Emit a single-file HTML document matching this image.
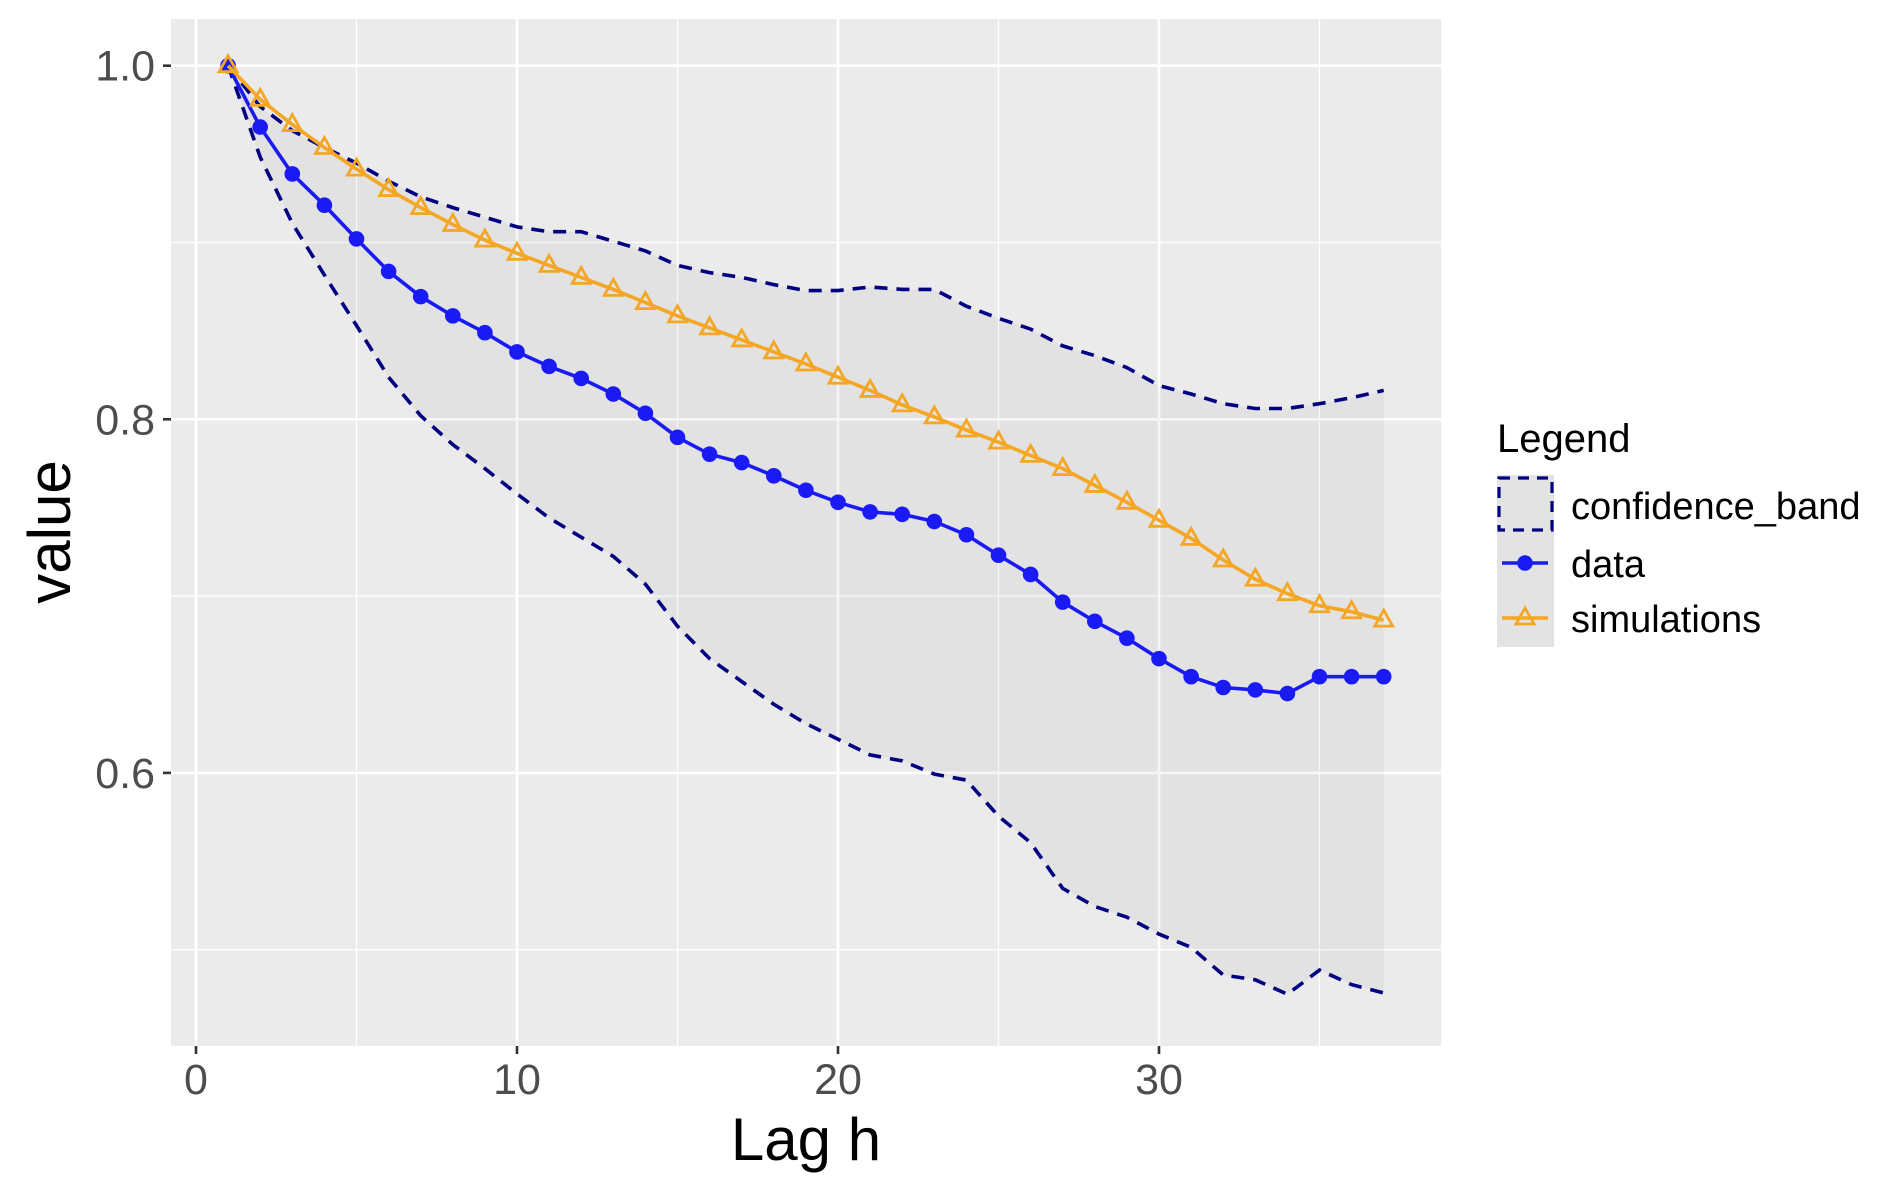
<!DOCTYPE html>
<html><head><meta charset="utf-8"><style>
html,body{margin:0;padding:0;background:#fff;}
svg{display:block;font-family:"Liberation Sans",sans-serif;}
</style></head><body>
<svg id="s" width="1892" height="1195" xmlns="http://www.w3.org/2000/svg">
<rect x="171" y="19" width="1270" height="1027" fill="#EBEBEB"/>
<g id="g"></g>
</svg>
<script>
const s=document.getElementById('g');
const X=h=>196+h*32.1;
const Yd=y=>65.7+(y-54)*(353.6/294);
const Yv=v=>65.7+(1-v)*1768;
let o='';
[0.9,0.7,0.5].forEach(v=>o+=`<line x1="171" x2="1441" y1="${Yv(v)}" y2="${Yv(v)}" stroke="#fff" stroke-width="1.3"/>`);
[5,15,25,35].forEach(h=>o+=`<line y1="19" y2="1046" x1="${X(h)}" x2="${X(h)}" stroke="#fff" stroke-width="1.3"/>`);
[1.0,0.8,0.6].forEach(v=>o+=`<line x1="171" x2="1441" y1="${Yv(v)}" y2="${Yv(v)}" stroke="#fff" stroke-width="2.6"/>`);
[0,10,20,30].forEach(h=>o+=`<line y1="19" y2="1046" x1="${X(h)}" x2="${X(h)}" stroke="#fff" stroke-width="2.6"/>`);
const data=[54,105,144,170,198,225,246,262,276,292,304,314,327,343,363,377,384,395,407,417,425,427,433,444,461,477,500,516,530,547,562,571,573,576,562,562,562];
const sim=[54,82,103,122,140,157,172,186,199,210,220,230,240,251,262,272,282,292,302,313,324,336,346,357,367,378,389,403,417,432,447,465,481,493,503,508,515];
const up=[54,88,108,122,135,150,163,172,180,188,192,192,200,208,220,226,230,236,241,241,238,240,240,254,264,273,287,295,305,320,327,335,339,339,335,330,324];
const lo=[54,130,185,228,270,313,345,369,389,410,430,446,462,485,520,547,566,585,601,614,627,632,643,648,678,700,738,753,762,776,787,810,814,826,806,818,825];
const pts=a=>a.map((y,i)=>[X(i+1),Yd(y)]);
const P=a=>pts(a).map(p=>p[0].toFixed(1)+','+p[1].toFixed(1)).join(' ');
const uu=pts(up), ll=pts(lo).reverse();
o+=`<polygon points="${uu.concat(ll).map(p=>p.join(',')).join(' ')}" fill="#000" fill-opacity="0.035"/>`;
o+=`<polyline points="${P(up)}" fill="none" stroke="#000080" stroke-width="3.6" stroke-dasharray="13,9"/>`;
o+=`<polyline points="${P(lo)}" fill="none" stroke="#000080" stroke-width="3.6" stroke-dasharray="13,9"/>`;
o+=`<polyline points="${P(data)}" fill="none" stroke="#1A1AF5" stroke-width="3.6"/>`;
pts(data).forEach(p=>o+=`<circle cx="${p[0]}" cy="${p[1]}" r="7.8" fill="#1A1AF5"/>`);
o+=`<polyline points="${P(sim)}" fill="none" stroke="#F5A623" stroke-width="3.6"/>`;
const tri=(x,y)=>`<polygon points="${x},${y-10} ${x-9},${y+6} ${x+9},${y+6}" fill="none" stroke="#F5A623" stroke-width="2.8"/>`;
pts(sim).forEach(p=>o+=tri(p[0],p[1]));
[[1.0,'1.0'],[0.8,'0.8'],[0.6,'0.6']].forEach(([v,t])=>{const y=Yv(v);o+=`<line x1="163" x2="171" y1="${y}" y2="${y}" stroke="#333" stroke-width="2.6"/><text x="155" y="${y+15}" font-size="43" fill="#4D4D4D" text-anchor="end">${t}</text>`;});
[0,10,20,30].forEach(h=>{const x=X(h);o+=`<line x1="${x}" x2="${x}" y1="1046" y2="1054" stroke="#333" stroke-width="2.6"/><text x="${x}" y="1094" font-size="43" fill="#4D4D4D" text-anchor="middle">${h}</text>`;});
o+=`<text x="806" y="1160" font-size="60" fill="#000" text-anchor="middle">Lag h</text>`;
o+=`<text transform="translate(70,532) rotate(-90)" font-size="60" fill="#000" text-anchor="middle">value</text>`;
o+=`<text x="1497" y="452" font-size="40" fill="#000">Legend</text>`;
o+=`<rect x="1497" y="475" width="57" height="172" fill="#E3E3E3"/>`;
o+=`<rect x="1499" y="478" width="53" height="52" fill="none" stroke="#000080" stroke-width="3.2" stroke-dasharray="11,8"/>`;
o+=`<line x1="1502" x2="1548" y1="563" y2="563" stroke="#1A1AF5" stroke-width="3.6"/><circle cx="1525" cy="563" r="7.8" fill="#1A1AF5"/>`;
o+=`<line x1="1502" x2="1548" y1="618" y2="618" stroke="#F5A623" stroke-width="3.6"/>`+tri(1525,618);
o+=`<text x="1571" y="519" font-size="38" fill="#000">confidence_band</text>`;
o+=`<text x="1571" y="577" font-size="38" fill="#000">data</text>`;
o+=`<text x="1571" y="632" font-size="38" fill="#000">simulations</text>`;
s.innerHTML=o;
</script>
</body></html>
